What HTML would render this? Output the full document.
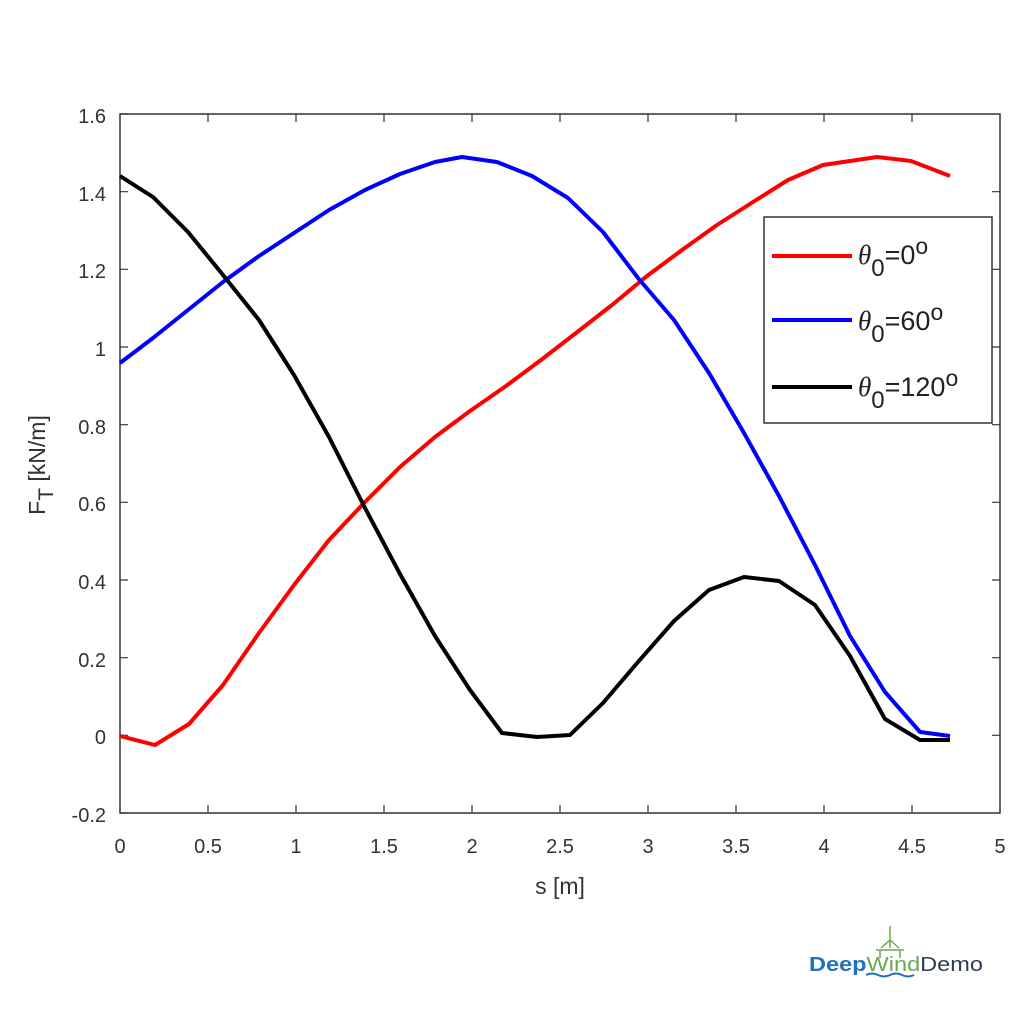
<!DOCTYPE html>
<html><head><style>body{margin:0;background:#fff}</style></head><body>
<svg width="1024" height="1024" xmlns="http://www.w3.org/2000/svg" font-family="Liberation Sans, Arial, sans-serif">
<rect width="1024" height="1024" fill="#fff"/>
<rect x="120" y="114" width="880" height="699" fill="none" stroke="#333" stroke-width="1.5"/>
<g stroke="#333" stroke-width="1.2">
<path d="M120,114h8M120,191.7h8M120,269.3h8M120,347h8M120,424.7h8M120,502.3h8M120,580h8M120,657.7h8M120,735.3h8M120,813h8"/>
<path d="M1000,191.7h-8M1000,269.3h-8M1000,347h-8M1000,424.7h-8M1000,502.3h-8M1000,580h-8M1000,657.7h-8M1000,735.3h-8"/>
<path d="M208,813v-8M296,813v-8M384,813v-8M472,813v-8M560,813v-8M648,813v-8M736,813v-8M824,813v-8M912,813v-8"/>
<path d="M208,114v8M296,114v8M384,114v8M472,114v8M560,114v8M648,114v8M736,114v8M824,114v8M912,114v8"/>
</g>
<g font-size="20" fill="#333" text-anchor="end">
<text x="106" y="123">1.6</text><text x="106" y="201">1.4</text><text x="106" y="278">1.2</text><text x="106" y="356">1</text><text x="106" y="434">0.8</text><text x="106" y="511">0.6</text><text x="106" y="589">0.4</text><text x="106" y="667">0.2</text><text x="106" y="744">0</text><text x="106" y="822">-0.2</text>
</g>
<g font-size="20" fill="#333" text-anchor="middle">
<text x="120" y="853">0</text><text x="208" y="853">0.5</text><text x="296" y="853">1</text><text x="384" y="853">1.5</text><text x="472" y="853">2</text><text x="560" y="853">2.5</text><text x="648" y="853">3</text><text x="736" y="853">3.5</text><text x="824" y="853">4</text><text x="912" y="853">4.5</text><text x="1000" y="853">5</text>
<text x="560" y="894" font-size="23">s [m]</text>
</g>
<text transform="translate(45,465) rotate(-90)" font-size="23" fill="#333" text-anchor="middle">F<tspan dy="8" font-size="21">T</tspan><tspan dy="-8"> [kN/m]</tspan></text>
<g fill="none" stroke-width="4" stroke-linejoin="round">
<polyline stroke="#f00" points="120,736 155,745 189,724 223,685 259,633 294,585 329,540 365,502 400,467 435,437 470,411 506,386 541,360 576,333 612,305 647,276 682,250 717,225 753,202 788,180 823,165 850,161 877,157 911,161 950,176"/>
<polyline stroke="#00f" points="120,363 153,338 188,310 223,282 259,256 294,233 329,210 365,190 400,174 435,162 462,157 497,162 532,176 568,198 603,232 638,278 674,320 709,373 744,433 779,496 815,565 850,636 885,692 920,732 950,736"/>
<polyline stroke="#000" points="120,176 153,197 188,232 223,275 259,320 294,375 329,437 365,508 400,574 435,636 470,690 502,733 537,737 570,735 603,703 638,662 674,621 709,590 744,577 779,581 815,605 850,656 885,719 920,740 950,740"/>
</g>
<rect x="764" y="217" width="228" height="206" fill="#fff" stroke="#333" stroke-width="1.5"/>
<g stroke-width="4"><path d="M772,256h80" stroke="#f00"/><path d="M772,320h80" stroke="#00f"/><path d="M772,387h80" stroke="#000"/></g>
<g font-size="27" fill="#222">
<text x="858" y="264"><tspan font-style="italic" font-family="Liberation Serif, serif">θ</tspan><tspan dy="12" font-size="24">0</tspan><tspan dy="-12">=0</tspan><tspan dy="-10" font-size="23">o</tspan></text>
<text x="858" y="330"><tspan font-style="italic" font-family="Liberation Serif, serif">θ</tspan><tspan dy="12" font-size="24">0</tspan><tspan dy="-12">=60</tspan><tspan dy="-10" font-size="23">o</tspan></text>
<text x="858" y="396"><tspan font-style="italic" font-family="Liberation Serif, serif">θ</tspan><tspan dy="12" font-size="24">0</tspan><tspan dy="-12">=120</tspan><tspan dy="-10" font-size="23">o</tspan></text>
</g>
<g stroke="#6aa84f" stroke-width="1.5" fill="none"><path d="M890,926v22M890,940l-9,8M890,940l9,8"/><path d="M880,950v8M900,950v8M876,950h28"/></g>
<text x="809" y="971" font-size="20" textLength="174" lengthAdjust="spacingAndGlyphs"><tspan fill="#1e73be" font-weight="bold">Deep</tspan><tspan fill="#6aa84f">Wind</tspan><tspan fill="#2c3e50">Demo</tspan></text>
<path d="M866,975q6,-3 12,0t12,0t12,0t12,0" stroke="#1e73be" stroke-width="2" fill="none"/>
</svg>
</body></html>
